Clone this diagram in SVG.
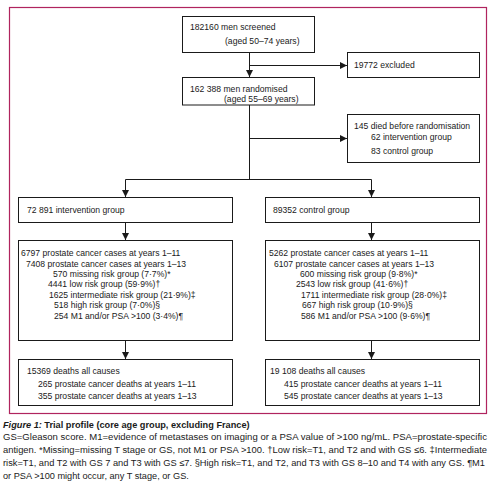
<svg xmlns="http://www.w3.org/2000/svg" width="499" height="490" viewBox="0 0 499 490">
<style>
text{font-family:"Liberation Sans",Arial,sans-serif;font-size:8.6px;fill:#1a1a1a}
.box{fill:#fff;stroke:#1a1a1a;stroke-width:1}
.ln{fill:none;stroke:#1a1a1a;stroke-width:1}
.cap{font-size:9.2px}
.title{font-weight:bold;font-size:9.2px}
</style>
<defs>
<marker id="ah" viewBox="0 0 8 8" refX="8" refY="4" markerWidth="7" markerHeight="7" markerUnits="userSpaceOnUse" orient="auto">
<path d="M0,0 L8,4 L0,8 z" fill="#1a1a1a"/>
</marker>
</defs>
<rect x="0" y="0" width="499" height="490" fill="#fff"/>
<rect x="9.5" y="7.5" width="477" height="406" fill="none" stroke="#b0245e" stroke-width="1.2"/>

<g id="connectors">
<path class="ln" d="M249.5,52 V77" marker-end="url(#ah)"/>
<path class="ln" d="M249.5,65.5 H347" marker-end="url(#ah)"/>
<path class="ln" d="M249.5,105 V179.5"/>
<path class="ln" d="M249.5,138.5 H347" marker-end="url(#ah)"/>
<path class="ln" d="M125.5,179.5 H371.5"/>
<path class="ln" d="M125.5,179.5 V197" marker-end="url(#ah)"/>
<path class="ln" d="M371.5,179.5 V197" marker-end="url(#ah)"/>
<path class="ln" d="M125.5,222 V240" marker-end="url(#ah)"/>
<path class="ln" d="M371.5,222 V240" marker-end="url(#ah)"/>
<path class="ln" d="M125.5,341 V359" marker-end="url(#ah)"/>
<path class="ln" d="M371.5,341 V359" marker-end="url(#ah)"/>
</g>

<g id="screened">
<rect class="box" x="182.5" y="16.5" width="132" height="36"/>
<text x="190" y="30">182160 men screened</text>
<text x="225" y="44">(aged 50–74 years)</text>
</g>
<g id="excluded">
<rect class="box" x="347.5" y="52.5" width="132" height="25"/>
<text x="354" y="68">19772 excluded</text>
</g>
<g id="randomised">
<rect class="box" x="182.5" y="77.5" width="132" height="27.5"/>
<text x="190" y="92">162 388 men randomised</text>
<text x="224" y="102">(aged 55–69 years)</text>
</g>
<g id="died">
<rect class="box" x="347.5" y="114.5" width="132" height="48"/>
<text x="354" y="129">145 died before randomisation</text>
<text x="371" y="140">62 intervention group</text>
<text x="371" y="154">83 control group</text>
</g>
<g id="intervention">
<rect class="box" x="18.5" y="197.5" width="214" height="25"/>
<text x="27" y="213">72 891 intervention group</text>
</g>
<g id="control">
<rect class="box" x="265.5" y="197.5" width="214" height="25"/>
<text x="273" y="213">89352 control group</text>
</g>
<g id="int-cases">
<rect class="box" x="18.5" y="240.5" width="214" height="100"/>
<text x="21" y="256">6797 prostate cancer cases at years 1–11</text>
<text x="26" y="267">7408 prostate cancer cases at years 1–13</text>
<text x="53" y="277">570 missing risk group (7·7%)*</text>
<text x="48" y="287">4441 low risk group (59·9%)†</text>
<text x="49" y="298">1625 intermediate risk group (21·9%)‡</text>
<text x="54" y="308">518 high risk group (7·0%)§</text>
<text x="54" y="319">254 M1 and/or PSA &gt;100 (3·4%)¶</text>
</g>
<g id="ctl-cases">
<rect class="box" x="265.5" y="240.5" width="214" height="100"/>
<text x="269" y="256">5262 prostate cancer cases at years 1–11</text>
<text x="274" y="267">6107 prostate cancer cases at years 1–13</text>
<text x="300" y="277">600 missing risk group (9·8%)*</text>
<text x="296" y="287">2543 low risk group (41·6%)†</text>
<text x="301" y="298">1711 intermediate risk group (28·0%)‡</text>
<text x="302" y="308">667 high risk group (10·9%)§</text>
<text x="301" y="319">586 M1 and/or PSA &gt;100 (9·6%)¶</text>
</g>
<g id="int-deaths">
<rect class="box" x="18.5" y="359.5" width="214" height="46"/>
<text x="27" y="374">15369 deaths all causes</text>
<text x="38" y="387">265 prostate cancer deaths at years 1–11</text>
<text x="38" y="399">355 prostate cancer deaths at years 1–13</text>
</g>
<g id="ctl-deaths">
<rect class="box" x="265.5" y="359.5" width="214" height="46"/>
<text x="270" y="374">19 108 deaths all causes</text>
<text x="284" y="387">415 prostate cancer deaths at years 1–11</text>
<text x="284" y="399">545 prostate cancer deaths at years 1–13</text>
</g>

<g id="caption">
<text class="title" x="3" y="428"><tspan font-style="italic">Figure 1:</tspan> Trial profile (core age group, excluding France)</text>
<text class="cap" x="3" y="440" textLength="484" lengthAdjust="spacingAndGlyphs">GS=Gleason score. M1=evidence of metastases on imaging or a PSA value of &gt;100 ng/mL. PSA=prostate-specific</text>
<text class="cap" x="3" y="453" textLength="484" lengthAdjust="spacingAndGlyphs">antigen. *Missing=missing T stage or GS, not M1 or PSA &gt;100. †Low risk=T1, and T2 and with GS ≤6. ‡Intermediate</text>
<text class="cap" x="3" y="466" textLength="482" lengthAdjust="spacingAndGlyphs">risk=T1, and T2 with GS 7 and T3 with GS ≤7. §High risk=T1, and T2, and T3 with GS 8–10 and T4 with any GS. ¶M1</text>
<text class="cap" x="3" y="479">or PSA &gt;100 might occur, any T stage, or GS.</text>
</g>
</svg>
